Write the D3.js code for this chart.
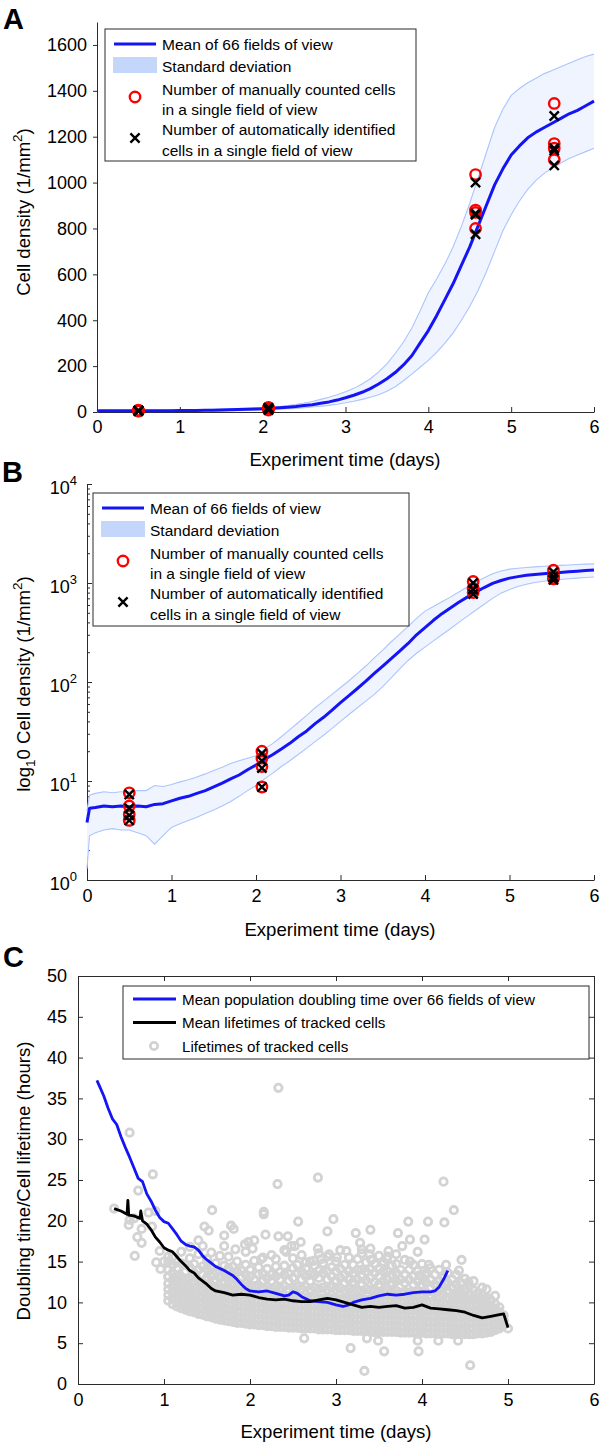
<!DOCTYPE html>
<html><head><meta charset="utf-8">
<script src="https://cdn.jsdelivr.net/npm/d3@7"></script>
<style>
body{margin:0;background:#fff;}
svg{display:block;font-family:"Liberation Sans",Arial,Helvetica,sans-serif;}
</style></head><body>
<svg id="chart" width="600" height="1443"></svg>
<script>
// ---------------- DATA ----------------
const timeGrid = [0,0.03,0.1,0.2,0.3,0.4,0.5,0.6,0.7,0.8,0.9,1.0,1.1,1.2,1.3,1.4,1.5,1.6,1.7,1.8,1.9,2.0,2.1,2.2,2.3,2.4,2.5,2.6,2.7,2.8,2.9,3.0,3.1,3.2,3.3,3.4,3.5,3.6,3.7,3.8,3.9,4.0,4.1,4.2,4.3,4.4,4.5,4.6,4.7,4.8,4.9,5.0,5.1,5.2,5.3,5.4,5.5,5.6,5.7,5.8,5.9,6.0];
const meanDensity = [3.8,5.3,5.4,5.6,5.5,5.6,5.5,5.6,5.5,5.8,5.9,6.3,6.7,7.0,7.5,8.0,8.7,9.5,10.5,11.5,13.0,14.5,16.5,18.5,21,24,28,32,38,44,52,62,73,86,102,122,145,172,205,245,300,355,420,490,560,640,720,810,900,990,1060,1120,1160,1195,1220,1240,1260,1280,1300,1315,1335,1355];
const upperDensity = [5.0,7.2,7.5,7.8,7.6,7.8,7.8,8.0,8.0,9.0,8.8,9.2,9.8,10.3,11.0,11.8,12.8,13.8,15.0,16.0,17.0,18.0,21,24,28,33,39,46,55,64,75,88,103,122,145,175,210,255,305,365,440,520,580,645,720,810,910,1020,1130,1240,1320,1380,1410,1435,1455,1475,1490,1505,1520,1535,1550,1560];
const lowerDensity = [1.3,2.8,3.0,3.2,3.3,3.2,3.2,3.0,2.8,2.3,2.8,3.4,3.7,4.0,4.3,4.7,5.1,5.6,6.2,7.0,8.0,9.0,10.5,12,14,16,18.5,21.5,25,29,34,40,47,55,64,75,90,110,136,165,195,225,260,300,345,400,460,530,610,700,790,860,920,970,1010,1040,1065,1085,1105,1120,1135,1150];

const sampleDays = [0.5, 2.07, 4.57, 5.52];
const manualCounts = [[7.6,5.6,4.6,4.0],[20,17,14,8.7],[1035,880,870,800],[1345,1170,1150,1100]];
const autoCounts   = [[7.3,5.3,4.5,4.0],[19,16,13.5,8.7],[1000,865,860,775],[1290,1150,1140,1075]];

const xTicks = [0,1,2,3,4,5,6];
const yTicksA = [0,200,400,600,800,1000,1200,1400,1600];
const yTicksB = [1,10,100,1000,10000];
const yTicksC = [0,5,10,15,20,25,30,35,40,45,50];

const doublingT = [0.22,0.25,0.3,0.35,0.4,0.45,0.5,0.55,0.6,0.65,0.7,0.75,0.8,0.85,0.9,0.95,1.0,1.05,1.1,1.15,1.2,1.25,1.3,1.35,1.4,1.45,1.5,1.55,1.6,1.7,1.8,1.85,1.9,1.95,2.0,2.1,2.2,2.3,2.4,2.45,2.5,2.55,2.6,2.7,2.8,2.9,3.0,3.08,3.15,3.2,3.3,3.4,3.5,3.6,3.7,3.8,3.9,4.0,4.1,4.15,4.2,4.25,4.3];
const doublingV = [37.2,36.5,35.3,33.8,32.5,31.8,30.3,29.0,27.8,26.5,25.2,24.8,23.3,22.4,21.3,20.4,19.9,19.7,19.0,18.3,17.5,17.1,16.9,16.8,16.4,15.7,15.2,14.8,14.4,13.9,13.3,12.8,12.2,11.7,11.4,11.3,11.4,11.1,10.8,10.9,11.3,11.1,10.7,10.2,10.1,10.0,9.7,9.5,9.7,10.0,10.3,10.5,10.8,11.0,10.9,11.0,11.2,11.3,11.3,11.4,11.9,12.8,13.9];
const lifeT = [0.42,0.5,0.57,0.58,0.59,0.65,0.72,0.73,0.75,0.8,0.85,0.9,0.95,1.0,1.05,1.1,1.15,1.2,1.25,1.3,1.35,1.4,1.45,1.5,1.55,1.6,1.7,1.8,1.9,2.0,2.1,2.2,2.3,2.4,2.5,2.6,2.7,2.8,2.9,3.0,3.1,3.2,3.3,3.4,3.5,3.6,3.7,3.8,3.9,4.0,4.1,4.2,4.3,4.4,4.5,4.6,4.7,4.8,4.9,4.95,5.0];
const lifeV = [21.5,21.2,20.8,22.5,20.7,20.6,20.3,21.2,20.0,19.6,18.9,18.0,17.4,16.7,16.4,16.2,15.6,15.0,14.5,13.9,13.6,13.0,12.6,12.2,11.7,11.4,11.2,10.9,11.0,10.9,10.6,10.4,10.3,10.4,10.2,10.1,10.1,10.3,10.5,10.3,10.0,9.7,9.4,9.5,9.4,9.5,9.6,9.3,9.4,9.7,9.3,9.2,9.1,9.0,8.8,8.4,8.1,8.3,8.5,8.6,6.9];

// dense cloud of tracked-cell lifetimes: columns of (day, lifetimes)
const cloudDays = [1.05,1.10,1.15,1.20,1.25,1.30,1.35,1.40,1.45,1.50,1.55,1.60,1.65,1.70,1.75,1.80,1.85,1.90,1.95,2.00,2.05,2.10,2.15,2.20,2.25,2.30,2.35,2.40,2.45,2.50,2.55,2.60,2.65,2.70,2.75,2.80,2.85,2.90,2.95,3.00,3.05,3.10,3.15,3.20,3.25,3.30,3.35,3.40,3.45,3.50,3.55,3.60,3.65,3.70,3.75,3.80,3.85,3.90,3.95,4.00,4.05,4.10,4.15,4.20,4.25,4.30,4.35,4.40,4.45,4.50,4.55,4.60,4.65,4.70,4.75,4.80,4.85,4.90,4.95];
const cloudLifetimes = [
[10.2,10.9,11.6,12.3,13.1,14.0],
[9.8,10.5,11.2,11.9,12.7,13.6,14.6],
[9.5,10.2,10.9,11.6,12.4,13.3,14.2],
[9.3,10.0,10.7,11.4,12.2,13.1,14.8],
[9.1,9.8,10.5,11.2,12.0,12.9,13.8],
[8.9,9.6,10.3,11.0,11.8,12.9,14.3],
[8.8,9.5,10.2,10.9,11.7,12.6,13.6],
[8.6,9.3,10.0,10.7,11.5,12.5,14.0],
[8.5,9.2,9.9,10.6,11.4,12.3,13.4],
[8.3,9.0,9.7,10.4,11.2,12.1,13.1,14.2],
[8.2,8.9,9.6,10.3,11.1,12.0,13.2],
[8.0,8.7,9.4,10.1,10.9,11.8,12.8,13.8],
[7.9,8.6,9.3,10.0,10.8,11.7,13.0],
[7.8,8.5,9.2,9.9,10.7,11.6,12.6,13.6],
[7.7,8.4,9.1,9.8,10.6,11.5,12.6,14.2],
[7.6,8.3,9.0,9.7,10.5,11.4,12.4,13.4],
[7.5,8.2,8.9,9.6,10.4,11.3,12.5,13.8],
[7.5,8.2,8.9,9.6,10.4,11.3,12.2,13.0],
[7.4,8.1,8.8,9.5,10.3,11.2,12.3,13.4],
[7.3,8.0,8.7,9.4,10.2,11.1,12.1,13.2],
[7.3,8.0,8.7,9.4,10.2,11.1,12.0,12.8],
[7.2,7.9,8.6,9.3,10.1,11.0,12.1,13.4],
[7.2,7.9,8.6,9.3,10.1,11.0,11.8,12.6],
[7.1,7.8,8.5,9.2,10.0,10.9,11.9,13.0],
[7.1,7.8,8.5,9.2,10.0,10.9,11.7,12.6],
[7.0,7.7,8.4,9.1,9.9,10.8,11.9,13.2],
[7.0,7.7,8.4,9.1,9.9,10.8,11.8,12.8],
[7.0,7.7,8.4,9.1,9.9,10.8,12.0,13.4],
[6.9,7.6,8.3,9.0,9.8,10.7,11.6,12.6],
[6.9,7.6,8.3,9.0,9.8,10.7,11.8,13.0],
[6.9,7.6,8.3,9.0,9.8,10.7,11.9,13.6],
[6.8,7.5,8.2,8.9,9.7,10.6,11.7,12.8],
[6.8,7.5,8.2,8.9,9.7,10.6,11.9,13.2],
[6.8,7.5,8.2,8.9,9.7,10.6,11.6,12.6],
[6.8,7.5,8.2,8.9,9.7,10.6,11.8,13.4],
[6.7,7.4,8.1,8.8,9.6,10.5,11.7,13.0],
[6.7,7.4,8.1,8.8,9.6,10.5,11.8,13.6],
[6.7,7.4,8.1,8.8,9.6,10.5,11.6,12.8],
[6.7,7.4,8.1,8.8,9.6,10.5,11.8,13.2],
[6.6,7.3,8.0,8.7,9.5,10.4,11.6,12.7,13.8],
[6.6,7.3,8.0,8.7,9.5,10.4,11.7,13.0],
[6.6,7.3,8.0,8.7,9.5,10.4,11.5,12.4,13.4],
[6.6,7.3,8.0,8.7,9.5,10.4,11.6,12.8],
[6.5,7.2,7.9,8.6,9.4,10.3,11.4,12.5,13.6],
[6.5,7.2,7.9,8.6,9.4,10.3,11.5,12.8,14.0],
[6.5,7.2,7.9,8.6,9.4,10.3,11.4,12.3,13.2],
[6.5,7.2,7.9,8.6,9.4,10.3,11.6,12.7,13.8],
[6.5,7.2,7.9,8.6,9.4,10.3,11.5,13.0],
[6.4,7.1,7.8,8.5,9.3,10.2,11.4,12.5,13.6],
[6.4,7.1,7.8,8.5,9.3,10.2,11.3,12.2,13.2],
[6.4,7.1,7.8,8.5,9.3,10.2,11.4,12.6,13.8],
[6.4,7.1,7.8,8.5,9.3,10.2,11.5,12.8],
[6.4,7.1,7.8,8.5,9.3,10.2,11.3,12.4,13.4],
[6.4,7.1,7.8,8.5,9.3,10.2,11.4,12.6],
[6.3,7.0,7.7,8.4,9.2,10.1,11.2,12.8],
[6.3,7.0,7.7,8.4,9.2,10.1,11.3,12.4],
[6.3,7.0,7.7,8.4,9.2,10.1,11.2,12.8],
[6.3,7.0,7.7,8.4,9.2,10.1,11.2,12.2],
[6.3,7.0,7.7,8.4,9.2,10.1,11.3,12.6],
[6.3,7.0,7.7,8.4,9.2,10.1,11.1,12.2],
[6.2,6.9,7.6,8.3,9.1,10.0,11.2,12.4],
[6.2,6.9,7.6,8.3,9.1,10.0,10.9,11.8],
[6.2,6.9,7.6,8.3,9.1,10.0,11.1,12.2],
[6.2,6.9,7.6,8.3,9.1,10.0,10.8,11.6],
[6.2,6.9,7.6,8.3,9.1,9.9,10.9,11.8],
[6.2,6.9,7.6,8.3,9.0,9.8,10.6,11.4],
[6.1,6.8,7.5,8.2,9.0,9.8,10.8,11.8],
[6.1,6.8,7.5,8.2,9.0,9.8,10.5,11.2],
[6.1,6.8,7.5,8.2,9.0,9.8,10.6,11.4],
[6.1,6.8,7.5,8.2,8.9,9.6,10.2,10.8],
[6.1,6.8,7.5,8.2,8.9,9.6,10.3,11.0],
[6.1,6.8,7.5,8.2,8.9,9.6,10.6],
[6.2,6.9,7.6,8.3,9.0,9.7,10.4],
[6.2,6.9,7.6,8.3,9.0,9.6,10.2],
[6.3,7.0,7.7,8.4,9.1,9.8],
[6.4,7.1,7.8,8.5,9.0,9.6],
[6.6,7.3,8.0,8.6,9.2],
[6.8,7.4,8.1,8.8],
[7.2,7.8,8.4]
];
// looser band of lifetimes above the dense core [day, hours]
const upperCloud = [[1.05,13.2],[1.05,15.0],[1.1,15.6],[1.15,12.8],[1.15,14.9],[1.2,16.2],[1.25,14.6],[1.3,15.4],[1.3,16.8],[1.35,14.7],[1.4,15.9],[1.45,14.4],[1.45,16.9],[1.5,15.3],[1.55,14.2],[1.55,16.1],[1.6,14.8],[1.65,13.8],[1.65,15.7],[1.7,14.5],[1.75,13.2],[1.75,15.6],[1.8,14.4],[1.85,15.0],[1.9,13.9],[1.95,14.6],[1.95,16.2],[2.0,14.0],[2.05,15.1],[2.1,14.3],[2.15,13.5],[2.15,15.5],[2.2,14.1],[2.25,13.4],[2.25,15.8],[2.3,14.4],[2.35,13.7],[2.4,14.5],[2.4,16.4],[2.45,13.5],[2.5,14.2],[2.5,15.4],[2.55,14.6],[2.6,13.8],[2.6,15.8],[2.65,14.2],[2.7,13.4],[2.7,15.0],[2.75,14.5],[2.8,13.9],[2.8,16.0],[2.85,14.8],[2.9,13.8],[2.9,15.6],[2.95,14.3],[3.0,15.0],[3.05,14.1],[3.05,16.4],[3.1,14.6],[3.15,13.8],[3.15,15.5],[3.2,14.6],[3.25,15.3],[3.3,14.0],[3.3,16.0],[3.35,14.9],[3.4,14.1],[3.4,16.6],[3.45,14.7],[3.5,14.1],[3.5,15.7],[3.55,14.8],[3.6,13.8],[3.6,15.6],[3.65,14.5],[3.7,13.6],[3.7,15.9],[3.75,14.0],[3.8,13.4],[3.8,15.2],[3.85,14.0],[3.9,13.2],[3.9,14.6],[3.95,13.8],[4.0,13.1],[4.0,14.7],[4.05,13.6],[4.1,12.8],[4.1,14.2],[4.15,13.4],[4.2,12.6],[4.2,14.0],[4.25,13.0],[4.3,12.4],[4.3,13.6],[4.35,12.8],[4.4,12.2],[4.4,13.4],[4.45,12.4],[4.5,11.6],[4.5,12.9],[4.55,12.0],[4.6,11.5],[4.6,12.6],[4.65,11.2],[4.7,10.9],[4.7,11.8],[4.75,10.6],[4.8,10.2],[4.85,9.8],[4.85,10.8],[4.9,9.4]];
// isolated tracked-cell lifetimes [day, hours]
const outlierLifetimes = [[0.42,21.5],[0.6,30.8],[0.7,23.7],[0.59,19.5],[0.6,20.1],[0.65,20.3],[0.69,18.0],[0.74,17.3],[0.66,15.7],[0.74,19.0],[0.86,19.3],[0.87,25.7],[0.82,21.0],[0.9,21.2],[0.91,14.9],[0.96,14.1],[0.95,16.3],[1.0,15.0],[1.05,15.6],
[1.4,17.6],[1.47,19.3],[1.52,18.8],[1.56,21.3],[1.7,16.9],[1.7,18.2],[1.78,19.4],[1.81,19.0],[1.83,16.5],[1.94,17.1],[1.98,17.4],[2.03,16.6],[2.05,17.6],[2.13,15.3],[2.16,21.1],[2.16,20.8],[2.18,18.3],[2.3,15.3],[2.32,24.5],[2.33,36.3],[2.33,18.1],[2.42,16.2],[2.44,18.1],[2.48,16.9],[2.52,16.9],[2.56,19.9],[2.59,17.4],[2.63,5.6],[2.65,14.9],[2.74,15.1],[2.77,7.3],[2.79,25.3],[2.79,16.6],[2.83,15.3],[2.9,18.7],[2.92,15.9],[2.97,20.2],[3.01,15.5],[3.12,16.3],[3.17,4.4],[3.23,18.5],[3.28,17.3],[3.3,16.5],[3.33,1.6],[3.36,5.6],[3.39,15.9],[3.4,18.9],[3.41,15.2],[3.43,6.4],[3.49,5.3],[3.55,15.0],[3.56,4.0],[3.59,15.3],[3.61,16.3],[3.7,14.7],[3.72,18.5],[3.77,16.9],[3.84,19.9],[3.86,17.7],[3.86,15.0],[3.95,16.2],[3.95,5.3],[3.96,4.0],[3.97,13.3],[4.03,17.7],[4.04,13.3],[4.07,19.9],[4.08,14.6],[4.17,12.0],[4.19,5.3],[4.25,24.8],[4.26,19.8],[4.26,12.4],[4.28,14.6],[4.37,21.3],[4.39,6.4],[4.42,11.0],[4.42,5.3],[4.43,13.9],[4.46,15.2],[4.5,6.7],[4.54,12.5],[4.55,11.0],[4.56,2.3],[4.68,10.4],[4.75,11.6],[4.79,10.4],[4.79,6.9],[4.88,6.9],[5.0,6.8]];

// ---------------- STYLE ----------------
const FONT = '"Liberation Sans", Arial, Helvetica, sans-serif';
const AX = "#2b2b2b";
const BLUE = "#1414f5";
const BAND_FILL = "#f0f4ff";
const BAND_EDGE = "#abc5fd";
const PATCH = "#c4d6fa";
const GREY = "#d3d3d3";
const TICK_FS = 18, TITLE_FS = 18.6, LEG_FS = 15.5;

const svg = d3.select("#chart");

function styleAxis(g){
  g.select(".domain").attr("stroke",AX).attr("stroke-width",1);
  g.selectAll(".tick line").attr("stroke",AX).attr("stroke-width",1);
  g.selectAll(".tick text").attr("fill","#000").attr("font-size",TICK_FS).attr("font-family",FONT);
}
function panelLetter(txt,x,y){
  svg.append("text").attr("x",x).attr("y",y).attr("font-size",29).attr("font-weight","bold").attr("font-family",FONT).text(txt);
}
function xTitle(cx,y){
  svg.append("text").attr("x",cx).attr("y",y).attr("text-anchor","middle").attr("font-size",TITLE_FS).attr("font-family",FONT).text("Experiment time (days)");
}
function crossPath(s){ return `M${-s},${-s}L${s},${s}M${-s},${s}L${s},${-s}`; }

function densityPanel(xs, ys, rows){
  const g = svg.append("g");
  g.append("path").datum(rows)
    .attr("d", d3.area().x(d=>xs(d.t)).y0(d=>ys(d.l)).y1(d=>ys(d.u)))
    .attr("fill", BAND_FILL);
  ["u","l"].forEach(k=>{
    g.append("path").datum(rows)
      .attr("d", d3.line().x(d=>xs(d.t)).y(d=>ys(d[k])))
      .attr("fill","none").attr("stroke",BAND_EDGE).attr("stroke-width",1.1);
  });
  g.append("path").datum(rows)
    .attr("d", d3.line().x(d=>xs(d.t)).y(d=>ys(d.m)))
    .attr("fill","none").attr("stroke",BLUE).attr("stroke-width",3).attr("stroke-linejoin","round");
  sampleDays.forEach((day,i)=>{
    manualCounts[i].forEach(v=>{
      g.append("circle").attr("cx",xs(day)).attr("cy",ys(v)).attr("r",5.2)
        .attr("fill","none").attr("stroke","#ff0000").attr("stroke-width",2.4);
    });
  });
  sampleDays.forEach((day,i)=>{
    autoCounts[i].forEach(v=>{
      g.append("path").attr("transform",`translate(${xs(day)},${ys(v)})`).attr("d",crossPath(4.6))
        .attr("fill","none").attr("stroke","#000").attr("stroke-width",2.4);
    });
  });
}

function densityLegend(x0,y0,x1,y1){
  const g = svg.append("g");
  g.append("rect").attr("x",x0).attr("y",y0).attr("width",x1-x0).attr("height",y1-y0)
    .attr("fill","#fff").attr("stroke",AX).attr("stroke-width",1);
  const lx0 = x0+9, lx1 = x0+51, mx = x0+30, tx = x0+57;
  g.append("line").attr("x1",lx0).attr("x2",lx1).attr("y1",y0+15).attr("y2",y0+15).attr("stroke",BLUE).attr("stroke-width",3);
  g.append("rect").attr("x",lx0-1).attr("y",y0+28).attr("width",lx1-lx0+2).attr("height",16).attr("fill",PATCH);
  g.append("circle").attr("cx",mx).attr("cy",y0+68).attr("r",5.2).attr("fill","none").attr("stroke","#ff0000").attr("stroke-width",2.4);
  g.append("path").attr("transform",`translate(${mx},${y0+109})`).attr("d",crossPath(4.6)).attr("fill","none").attr("stroke","#000").attr("stroke-width",2.4);
  const lines = [["Mean of 66 fields of view",21],["Standard deviation",43],["Number of manually counted cells",66],["in a single field of view",86],["Number of automatically identified",106],["cells in a single field of view",127]];
  lines.forEach(([t,dy])=>{
    g.append("text").attr("x",tx).attr("y",y0+dy).attr("font-size",LEG_FS).attr("font-family",FONT).text(t);
  });
}

const rows = timeGrid.map((t,i)=>({t, m:meanDensity[i], u:upperDensity[i], l:lowerDensity[i]}));

// ---------------- PANEL A ----------------
{
  const xA = d3.scaleLinear().domain([0,6]).range([97,594]);
  const yA = d3.scaleLinear().domain([0,1700]).range([412,22]);
  const gx = svg.append("g").attr("transform","translate(0,412)")
    .call(d3.axisBottom(xA).tickValues(xTicks).tickFormat(d3.format("d")).tickSize(-5).tickSizeOuter(0).tickPadding(8));
  styleAxis(gx);
  const gy = svg.append("g").attr("transform","translate(97,0)")
    .call(d3.axisLeft(yA).tickValues(yTicksA).tickFormat(d3.format("d")).tickSize(4).tickSizeOuter(0).tickPadding(6));
  styleAxis(gy);
  densityPanel(xA, yA, rows);
  densityLegend(105,29,416,161);
  xTitle(345,466);
  const t = svg.append("text").attr("transform","translate(30,212) rotate(-90)").attr("text-anchor","middle")
    .attr("font-size",TITLE_FS).attr("font-family",FONT);
  t.append("tspan").text("Cell density (1/mm");
  t.append("tspan").attr("dy",-8).attr("font-size",13.5).text("2");
  t.append("tspan").attr("dy",8).text(")");
  panelLetter("A",3,29);
}

// ---------------- PANEL B ----------------
{
  const xB = d3.scaleLinear().domain([0,6]).range([87,594]);
  const yB = d3.scaleLog().domain([1,10000]).range([880,484]);
  const gx = svg.append("g").attr("transform","translate(0,880)")
    .call(d3.axisBottom(xB).tickValues(xTicks).tickFormat(d3.format("d")).tickSize(-5).tickSizeOuter(0).tickPadding(9));
  styleAxis(gx);
  const minors = [];
  [1,10,100,1000].forEach(b=>{ for(let k=2;k<=9;k++) minors.push(b*k); });
  const gm = svg.append("g").attr("transform","translate(87,0)")
    .call(d3.axisLeft(yB).tickValues(minors).tickFormat("").tickSize(-3).tickSizeOuter(0));
  styleAxis(gm);
  const gy = svg.append("g").attr("transform","translate(87,0)")
    .call(d3.axisLeft(yB).tickValues(yTicksB).tickFormat(d=>String(d)).tickSize(-5).tickSizeOuter(0).tickPadding(10));
  styleAxis(gy);
  gy.selectAll(".tick text").each(function(d){
    const s = d3.select(this);
    s.text("").attr("dy","0.55em");
    s.append("tspan").text("10");
    s.append("tspan").attr("dy",-9).attr("font-size",13).text(String(Math.round(Math.log10(d))));
  });
  densityPanel(xB, yB, rows);
  densityLegend(93,493,409,626);
  xTitle(340,936);
  const t = svg.append("text").attr("transform","translate(30,684) rotate(-90)").attr("text-anchor","middle")
    .attr("font-size",TITLE_FS).attr("font-family",FONT);
  t.append("tspan").text("log");
  t.append("tspan").attr("dy",5).attr("font-size",13.5).text("1");
  t.append("tspan").attr("dy",-5).text("0 Cell density (1/mm");
  t.append("tspan").attr("dy",-8).attr("font-size",13.5).text("2");
  t.append("tspan").attr("dy",8).text(")");
  panelLetter("B",2,482);
}

// ---------------- PANEL C ----------------
{
  const xC = d3.scaleLinear().domain([0,6]).range([78,594]);
  const yC = d3.scaleLinear().domain([0,50]).range([1384,976]);
  const gx = svg.append("g").attr("transform","translate(0,1384)")
    .call(d3.axisBottom(xC).tickValues(xTicks).tickFormat(d3.format("d")).tickSize(-5).tickSizeOuter(0).tickPadding(9));
  styleAxis(gx);
  const gxt = svg.append("g").attr("transform","translate(0,976)")
    .call(d3.axisTop(xC).tickValues(xTicks).tickFormat("").tickSize(-5).tickSizeOuter(0));
  styleAxis(gxt);
  const gy = svg.append("g").attr("transform","translate(78,0)")
    .call(d3.axisLeft(yC).tickValues(yTicksC).tickFormat(d3.format("d")).tickSize(-5).tickSizeOuter(0).tickPadding(11));
  styleAxis(gy);
  const gyr = svg.append("g").attr("transform","translate(594,0)")
    .call(d3.axisRight(yC).tickValues(yTicksC).tickFormat("").tickSize(-5).tickSizeOuter(0));
  styleAxis(gyr);

  const pts = [];
  cloudDays.forEach((day,i)=>cloudLifetimes[i].forEach(v=>pts.push([day,v])));
  upperCloud.forEach(p=>pts.push(p));
  outlierLifetimes.forEach(p=>pts.push(p));
  svg.append("g").selectAll("circle").data(pts).join("circle")
    .attr("cx",d=>xC(d[0])).attr("cy",d=>yC(d[1])).attr("r",3.7)
    .attr("fill","none").attr("stroke",GREY).attr("stroke-width",2.8);

  svg.append("path").datum(doublingT.map((t,i)=>[t,doublingV[i]]))
    .attr("d",d3.line().x(d=>xC(d[0])).y(d=>yC(d[1])))
    .attr("fill","none").attr("stroke",BLUE).attr("stroke-width",2.8).attr("stroke-linejoin","round");
  svg.append("path").datum(lifeT.map((t,i)=>[t,lifeV[i]]))
    .attr("d",d3.line().x(d=>xC(d[0])).y(d=>yC(d[1])))
    .attr("fill","none").attr("stroke","#000").attr("stroke-width",2.8).attr("stroke-linejoin","round");

  const lg = svg.append("g");
  lg.append("rect").attr("x",123).attr("y",986).attr("width",466).attr("height",73)
    .attr("fill","#fff").attr("stroke",AX).attr("stroke-width",1);
  lg.append("line").attr("x1",133).attr("x2",176).attr("y1",999).attr("y2",999).attr("stroke",BLUE).attr("stroke-width",3);
  lg.append("line").attr("x1",133).attr("x2",176).attr("y1",1022.5).attr("y2",1022.5).attr("stroke","#000").attr("stroke-width",3);
  lg.append("circle").attr("cx",154).attr("cy",1046).attr("r",3.7).attr("fill","none").attr("stroke",GREY).attr("stroke-width",2.8);
  [["Mean population doubling time over 66 fields of view",1005],["Mean lifetimes of tracked cells",1028],["Lifetimes of tracked cells",1052]].forEach(([t,y])=>{
    lg.append("text").attr("x",182).attr("y",y).attr("font-size",15.2).attr("font-family",FONT).text(t);
  });

  xTitle(336,1438);
  svg.append("text").attr("transform","translate(30,1181) rotate(-90)").attr("text-anchor","middle")
    .attr("font-size",TITLE_FS).attr("font-family",FONT).text("Doubling time/Cell lifetime (hours)");
  panelLetter("C",3,967);
}
</script></body></html>
